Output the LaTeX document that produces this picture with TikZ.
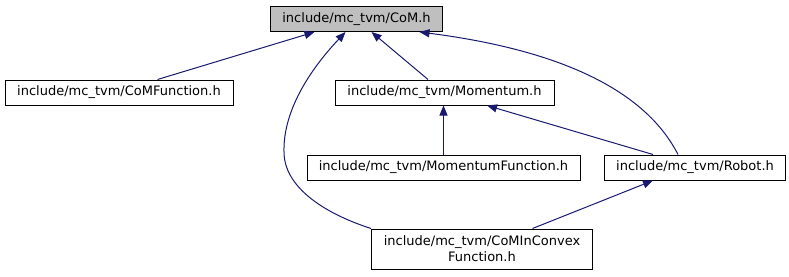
\documentclass[tikz,border=0pt]{standalone}
\usepackage{fontspec}
\setmainfont{DejaVu Sans}
\usetikzlibrary{arrows.meta}
\definecolor{edgeblue}{HTML}{191970}
\definecolor{rootgray}{HTML}{BFBFBF}
\begin{document}
\begin{tikzpicture}[x=1pt,y=-1pt,
  filebox/.style={draw=black,line width=1pt,rectangle,inner sep=0pt,
    minimum height=25pt,font=\fontsize{13}{16}\selectfont,align=center},
  dep/.style={draw=edgeblue,line width=1pt,-{Triangle[length=10pt,width=8pt]}}]
\useasboundingbox (0,0) rectangle (789,276);

% header files
\node[filebox,fill=rootgray,minimum width=172pt,minimum height=25pt] (com) at (356.5,19) {include/mc\_tvm/CoM.h};
\node[filebox,minimum width=228pt] (comf) at (119,92.5) {include/mc\_tvm/CoMFunction.h};
\node[filebox,minimum width=219pt] (mom) at (444.5,92.5) {include/mc\_tvm/Momentum.h};
\node[filebox,minimum width=273pt] (momf) at (443.5,167.5) {include/mc\_tvm/MomentumFunction.h};
\node[filebox,minimum width=181pt] (robot) at (695,167.5) {include/mc\_tvm/Robot.h};
\node[filebox,minimum width=221pt,minimum height=40pt] (cic) at (482,249) {include/mc\_tvm/CoMInConvex\\Function.h};

% include dependencies
\draw[dep] ([xshift=38.5pt]comf.north) -- ([xshift=-42pt]com.south);
\draw[dep] (cic.north west) .. controls (320,212) and (284,185) .. (284,152)
  .. controls (283,115) and (305,75) .. ([xshift=-11pt]com.south);
\draw[dep] ([xshift=-16.5pt]mom.north) -- ([xshift=15pt]com.south);
\draw[dep] ([xshift=-17pt]robot.north) .. controls (645,90) and (560,50) .. ([xshift=63pt]com.south);
\draw[dep] (momf.north) -- (momf.north |- mom.south);
\draw[dep] ([xshift=-42pt]robot.north) -- ([xshift=42.5pt]mom.south);
\draw[dep] ([xshift=50.5pt]cic.north) -- ([xshift=-42pt]robot.south);
\end{tikzpicture}
\end{document}
